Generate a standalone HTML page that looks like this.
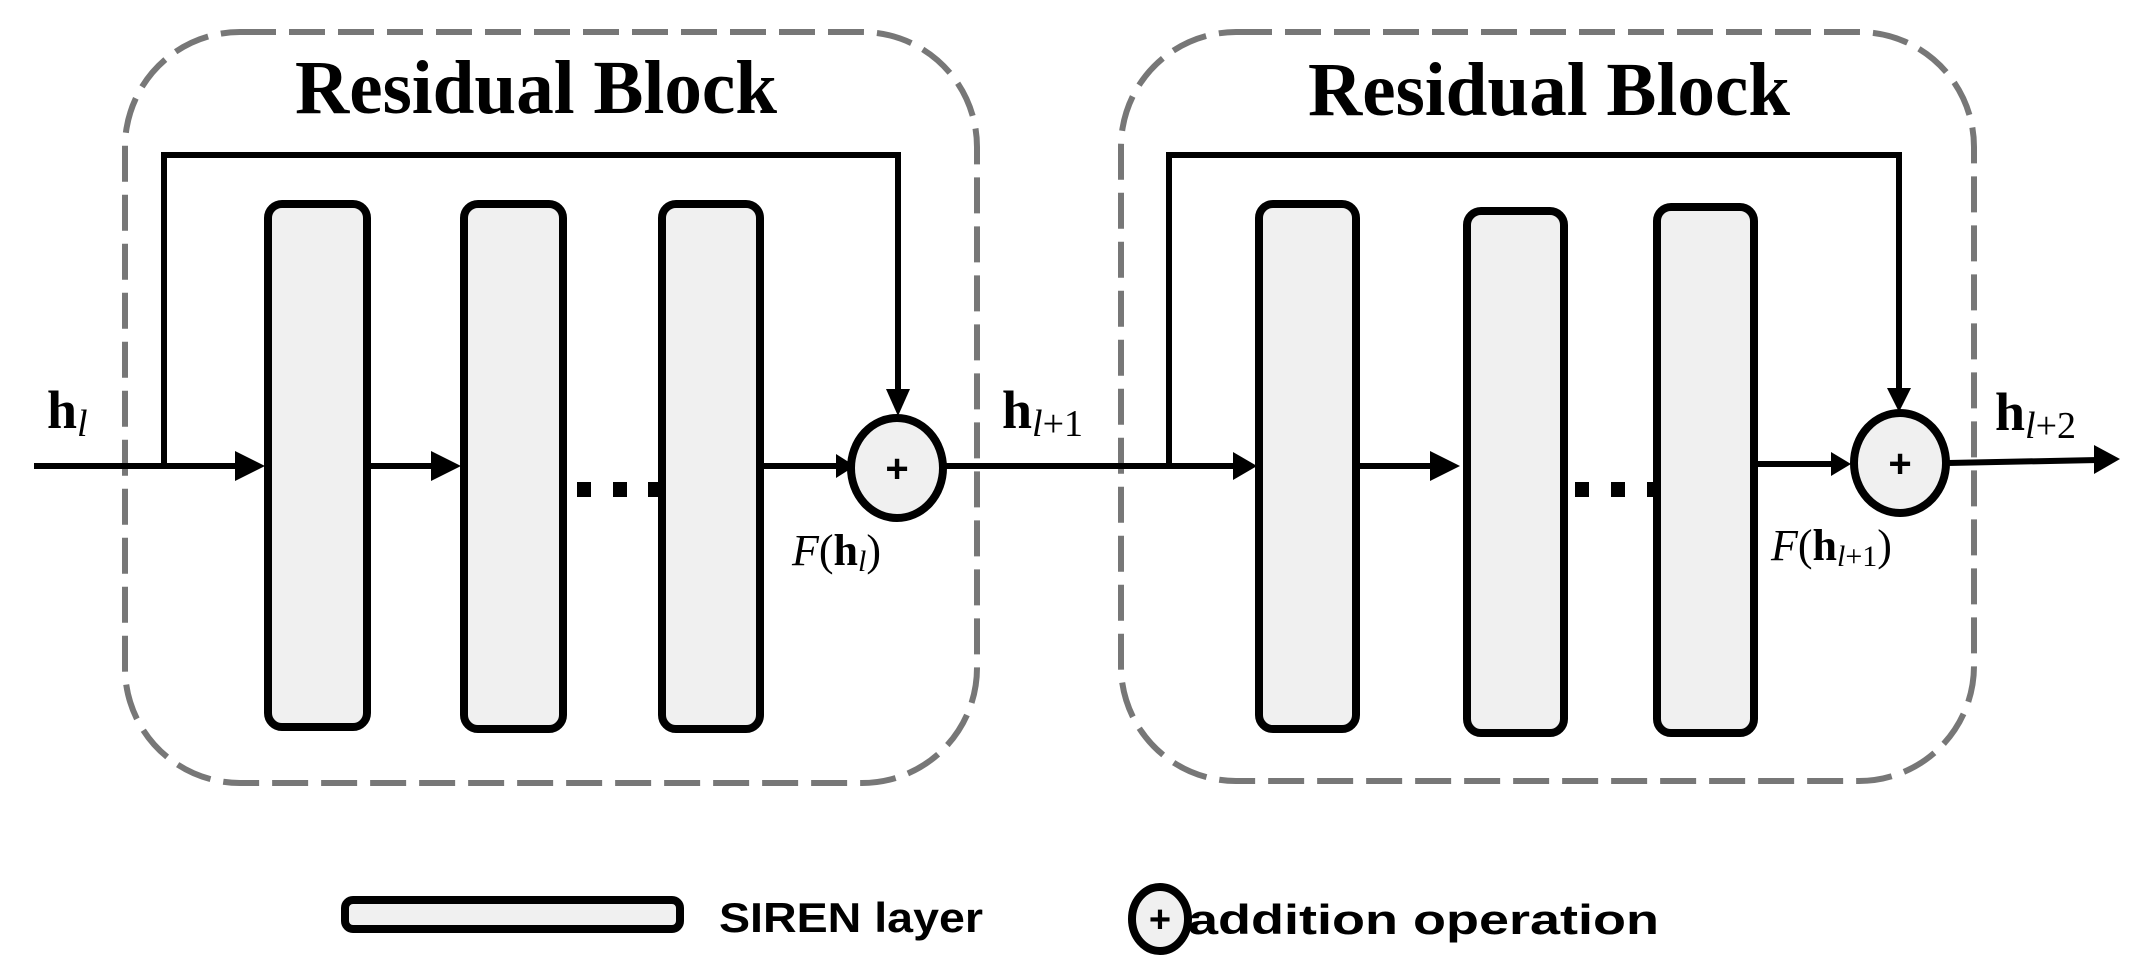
<!DOCTYPE html>
<html><head><meta charset="utf-8"><style>html,body{margin:0;padding:0;background:#fff;overflow:hidden}svg{display:block}</style></head>
<body>
<svg width="2141" height="977" viewBox="0 0 2141 977" xmlns="http://www.w3.org/2000/svg">
<g fill="none" stroke="#777" stroke-width="6" stroke-dasharray="36 13">
<rect x="125" y="32" width="852" height="751" rx="115" ry="115"/>
<rect x="1121" y="32" width="853" height="749" rx="115" ry="115"/>
</g>
<g font-family="Liberation Serif, serif" font-weight="bold" font-size="76" fill="#000">
<text x="295" y="113" textLength="482" lengthAdjust="spacingAndGlyphs">Residual Block</text>
<text x="1308" y="115" textLength="482" lengthAdjust="spacingAndGlyphs">Residual Block</text>
</g>
<g stroke="#000" stroke-width="6" fill="none">
<line x1="34" y1="466" x2="240" y2="466"/>
<line x1="369" y1="466" x2="435" y2="466"/>
<line x1="762" y1="466" x2="838" y2="466"/>
<polyline points="164,469 164,155 898,155 898,393"/>
<line x1="945" y1="466" x2="1236" y2="466"/>
<line x1="1357" y1="466" x2="1433" y2="466"/>
<line x1="1755" y1="464" x2="1833" y2="464"/>
<polyline points="1169,469 1169,155 1899,155 1899,392"/>
<line x1="1948" y1="463" x2="2098" y2="460"/>
</g>
<g fill="#000">
<polygon points="235,451 265,466 235,481"/>
<polygon points="431,451 461,466 431,481"/>
<polygon points="836,454 855,466 836,478"/>
<polygon points="886,389 910,389 898,416"/>
<polygon points="1233,452 1257,466 1233,480"/>
<polygon points="1430,451 1460,466 1430,481"/>
<polygon points="1831,452 1851,464 1831,476"/>
<polygon points="1887,388 1911,388 1899,412"/>
<polygon points="2094,445 2120,459 2094,474"/>
<rect x="577" y="482" width="14" height="15"/>
<rect x="613" y="482" width="14" height="15"/>
<rect x="648" y="482" width="12" height="15"/>
<rect x="1575" y="482" width="14" height="15"/>
<rect x="1611" y="482" width="14" height="15"/>
<rect x="1647" y="482" width="10" height="15"/>
</g>
<g fill="#f0f0f0" stroke="#000" stroke-width="8">
<rect x="268" y="204" width="99" height="523" rx="14"/>
<rect x="464" y="204" width="99" height="525" rx="14"/>
<rect x="662" y="204" width="98" height="525" rx="14"/>
<rect x="1259" y="204" width="97" height="525" rx="14"/>
<rect x="1467" y="211" width="97" height="522" rx="14"/>
<rect x="1657" y="207" width="97" height="526" rx="14"/>
<ellipse cx="897" cy="468" rx="46" ry="50"/>
<ellipse cx="1900" cy="463" rx="46" ry="50"/>
<rect x="345" y="900" width="335" height="29" rx="8"/>
<ellipse cx="1160" cy="919" rx="28" ry="32"/>
</g>
<g font-family="Liberation Sans, sans-serif" font-weight="bold" fill="#000" text-anchor="middle">
<text x="897" y="482" font-size="40">+</text>
<text x="1900" y="477" font-size="40">+</text>
<text x="1160" y="932" font-size="38">+</text>
</g>
<g font-family="Liberation Sans, sans-serif" font-weight="bold" font-size="42" fill="#000">
<text x="719" y="932" textLength="264" lengthAdjust="spacingAndGlyphs">SIREN layer</text>
<text x="1188" y="934" textLength="471" lengthAdjust="spacingAndGlyphs">addition operation</text>
</g>
<g font-family="Liberation Serif, serif" fill="#000">
<text x="47" y="428" font-size="54" font-weight="bold">h<tspan font-size="38" font-style="italic" font-weight="normal" dy="8">l</tspan></text>
<text x="1002" y="428" font-size="54" font-weight="bold">h<tspan font-size="38" font-weight="normal" dy="8"><tspan font-style="italic">l</tspan>+1</tspan></text>
<text x="1995" y="430" font-size="54" font-weight="bold">h<tspan font-size="38" font-weight="normal" dy="8"><tspan font-style="italic">l</tspan>+2</tspan></text>
<text x="792" y="565" font-size="44"><tspan font-style="italic">F</tspan>(<tspan font-weight="bold">h</tspan><tspan font-size="30" font-style="italic" dy="6">l</tspan><tspan dy="-6">)</tspan></text>
<text x="1771" y="560" font-size="44"><tspan font-style="italic">F</tspan>(<tspan font-weight="bold">h</tspan><tspan font-size="30" dy="6"><tspan font-style="italic">l</tspan>+1</tspan><tspan dy="-6">)</tspan></text>
</g>
</svg>
</body></html>
